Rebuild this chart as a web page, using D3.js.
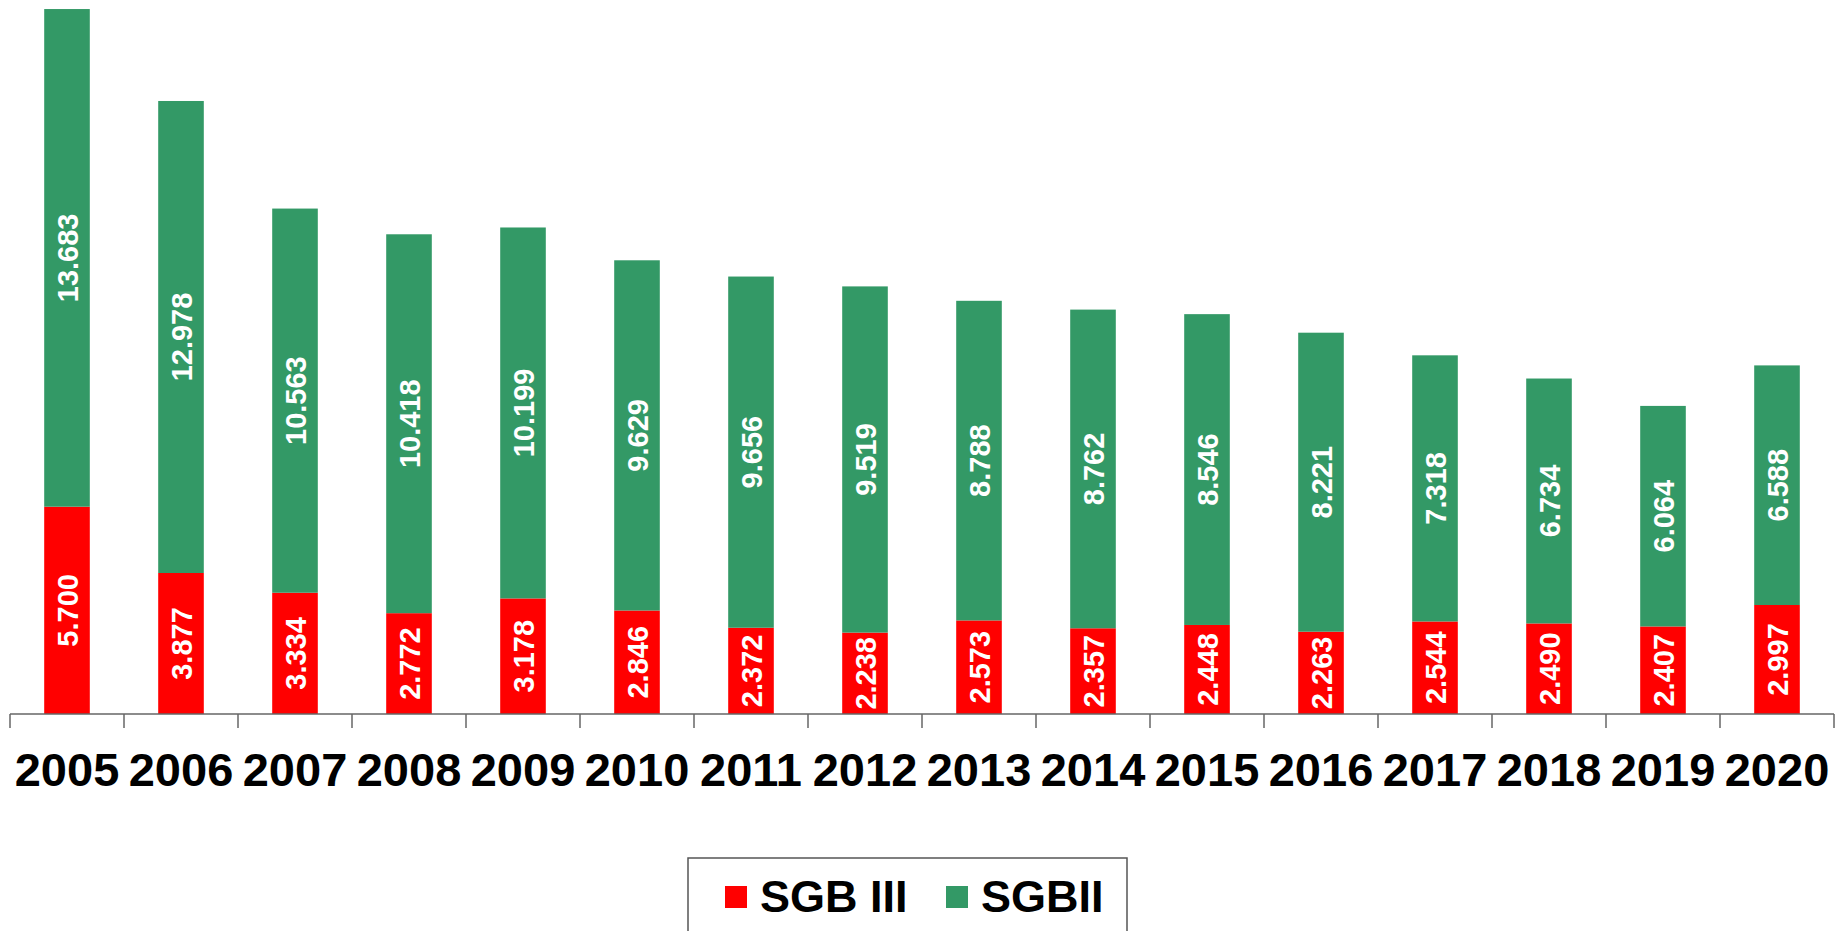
<!DOCTYPE html>
<html>
<head>
<meta charset="utf-8">
<script src="https://cdn.jsdelivr.net/npm/d3@7"></script>
<style>
    html, body { margin: 0; padding: 0; background: #fff; }
    svg { display: block; font-family: "Liberation Sans", Arial, sans-serif; }
</style>
</head>
<body>
<div id="main"></div>
<script>
"use strict";

const years = ["2005", "2006", "2007", "2008", "2009", "2010", "2011", "2012",
    "2013", "2014", "2015", "2016", "2017", "2018", "2019", "2020"];
const sgb3 = [5.700, 3.877, 3.334, 2.772, 3.178, 2.846, 2.372, 2.238,
    2.573, 2.357, 2.448, 2.263, 2.544, 2.490, 2.407, 2.997];
const sgb2 = [13.683, 12.978, 10.563, 10.418, 10.199, 9.629, 9.656, 9.519,
    8.788, 8.762, 8.546, 8.221, 7.318, 6.734, 6.064, 6.588];
const seriesNames = ["SGB III", "SGBII"];
const colors = ["#ff0000", "#339966"];

const width = 1835, height = 931;
const baseY = 714;

function fmt(v) {
    // german style: 5.700
    return v.toFixed(3);
}

function draw() {
    const svg = d3.select("#main").append("svg")
        .attr("width", width)
        .attr("height", height);

    const x = d3.scaleBand()
        .domain(years)
        .range([10, 1834]);

    const y = d3.scaleLinear()
        .domain([0, 20])
        .range([baseY, baseY - 20 * 36.37]);

    const barW = x.bandwidth() * 0.4;

    const rows = years.map((yr, i) => ({ year: yr, a: sgb3[i], b: sgb2[i] }));

    const g = svg.append("g");

    // SGB III (bottom)
    g.selectAll("rect.s3").data(rows).join("rect")
        .attr("class", "s3")
        .attr("x", d => x(d.year) + (x.bandwidth() - barW) / 2)
        .attr("width", barW)
        .attr("y", d => y(d.a))
        .attr("height", d => y(0) - y(d.a))
        .attr("fill", colors[0]);

    // SGBII (stacked on top)
    g.selectAll("rect.s2").data(rows).join("rect")
        .attr("class", "s2")
        .attr("x", d => x(d.year) + (x.bandwidth() - barW) / 2)
        .attr("width", barW)
        .attr("y", d => y(d.a + d.b))
        .attr("height", d => y(d.a) - y(d.a + d.b))
        .attr("fill", colors[1]);

    // value labels, rotated
    const labels = [];
    rows.forEach(d => {
        labels.push({ year: d.year, v: d.a, mid: d.a / 2 });
        labels.push({ year: d.year, v: d.b, mid: d.a + d.b / 2 });
    });
    g.selectAll("text.val").data(labels).join("text")
        .attr("class", "val")
        .attr("transform", d => `translate(${x(d.year) + x.bandwidth() / 2 + 1},${y(d.mid)}) rotate(-90)`)
        .attr("text-anchor", "middle")
        .attr("dominant-baseline", "central")
        .attr("fill", "#fff")
        .attr("font-weight", "bold")
        .attr("font-size", 29)
        .text(d => fmt(d.v));

    // x axis: line plus ticks between categories
    const axis = svg.append("g").attr("transform", `translate(0,${baseY})`);
    axis.append("line")
        .attr("x1", 10).attr("x2", 1834)
        .attr("stroke", "#666").attr("stroke-width", 1.5);
    const edges = years.map(yr => x(yr)).concat([x.range()[1]]);
    axis.selectAll("line.tick").data(edges).join("line")
        .attr("class", "tick")
        .attr("x1", d => d).attr("x2", d => d)
        .attr("y1", 0).attr("y2", 14)
        .attr("stroke", "#666").attr("stroke-width", 1.5);
    axis.selectAll("text.year").data(years).join("text")
        .attr("class", "year")
        .attr("x", d => x(d) + x.bandwidth() / 2)
        .attr("y", 72)
        .attr("text-anchor", "middle")
        .attr("font-weight", "bold")
        .attr("font-size", 47)
        .attr("fill", "#000")
        .text(d => d);

    // legend
    const leg = svg.append("g");
    leg.append("rect")
        .attr("x", 688).attr("y", 858)
        .attr("width", 439).attr("height", 100)
        .attr("fill", "none")
        .attr("stroke", "#555").attr("stroke-width", 1.5);
    const legX = [725, 946];
    seriesNames.forEach((name, i) => {
        leg.append("rect")
            .attr("x", legX[i]).attr("y", 886)
            .attr("width", 22).attr("height", 22)
            .attr("fill", colors[i]);
        leg.append("text")
            .attr("x", legX[i] + 35).attr("y", 912)
            .attr("font-weight", "bold")
            .attr("font-size", 45)
            .attr("fill", "#000")
            .text(name);
    });
}

draw();
</script>
</body>
</html>
